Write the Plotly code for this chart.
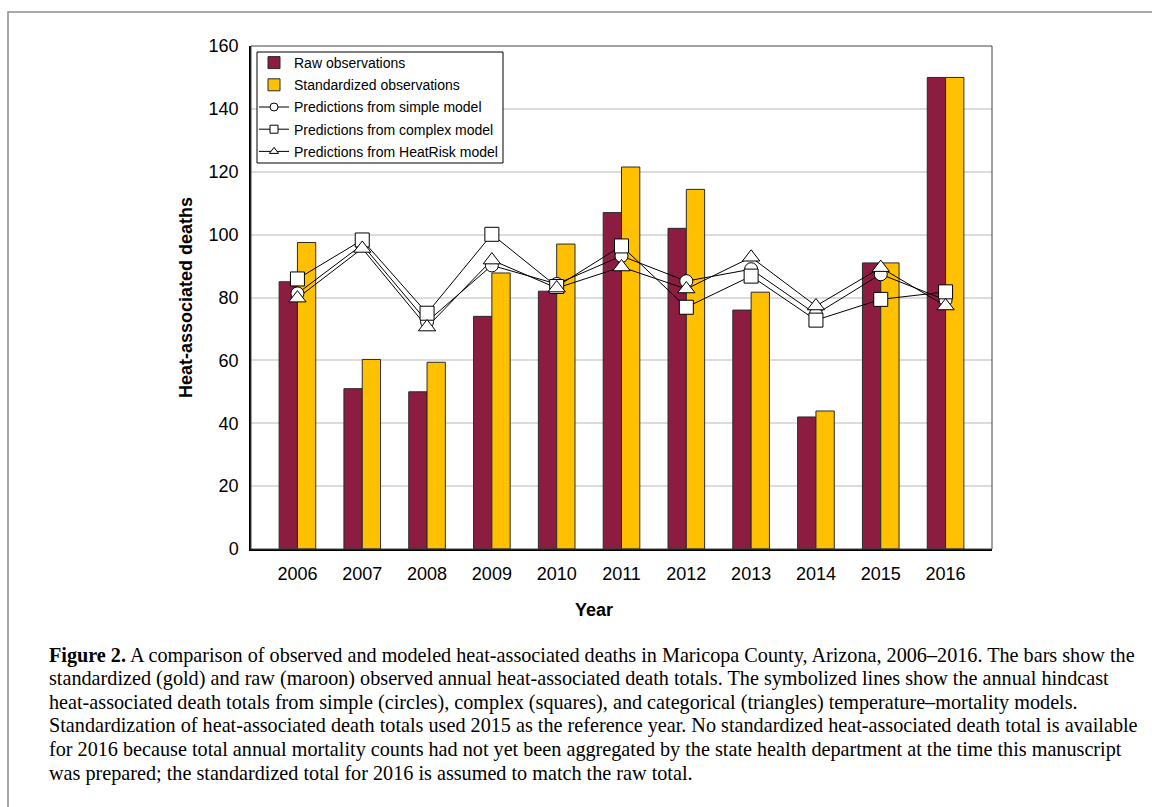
import plotly.graph_objects as go

years = ["2006", "2007", "2008", "2009", "2010", "2011", "2012", "2013", "2014", "2015", "2016"]
raw_obs = [85, 51, 50, 74, 82, 107, 102, 76, 42, 91, 150]
std_obs = [97.5, 60.3, 59.4, 87.8, 97, 121.5, 114.4, 81.7, 43.9, 91, 150]
simple_pred = [81.3, 96.8, 72.3, 90.2, 84.3, 93.2, 85.2, 89.0, 74.7, 87.4, 79.2]
complex_pred = [85.9, 98.3, 75.0, 100.1, 83.5, 96.4, 76.9, 86.8, 72.8, 79.4, 81.8]
heatrisk_pred = [79.8, 95.6, 70.6, 91.9, 83.0, 89.7, 82.7, 92.8, 77.3, 89.5, 77.3]

caption_lines = [
    "<b>Figure 2.</b> A comparison of observed and modeled heat-associated deaths in Maricopa County, Arizona, 2006–2016. The bars show the",
    "standardized (gold) and raw (maroon) observed annual heat-associated death totals. The symbolized lines show the annual hindcast",
    "heat-associated death totals from simple (circles), complex (squares), and categorical (triangles) temperature–mortality models.",
    "Standardization of heat-associated death totals used 2015 as the reference year. No standardized heat-associated death total is available",
    "for 2016 because total annual mortality counts had not yet been aggregated by the state health department at the time this manuscript",
    "was prepared; the standardized total for 2016 is assumed to match the raw total.",
]

W, H = 1152, 807
L, R, T, B = 251, 992, 46, 549  # plot area in pixels


def px(x):
    return (x - L) / (R - L)


def py(y):
    return (B - y) / (B - T)


fig = go.Figure()
bar_line = dict(color="#2a2a2a", width=1)
fig.add_trace(go.Bar(x=years, y=raw_obs, name="Raw observations", legendgroup="g1",
                     marker=dict(color="#8C1D40", line=bar_line)))
fig.add_trace(go.Bar(x=years, y=std_obs, name="Standardized observations", legendgroup="g2",
                     marker=dict(color="#FFC000", line=bar_line)))

series = [
    ("Predictions from simple model", simple_pred, "circle", 13),
    ("Predictions from complex model", complex_pred, "square", 14),
    ("Predictions from HeatRisk model", heatrisk_pred, "triangle-up", 15),
]
# lines first (behind all markers)
for name, vals, sym, sz in series:
    fig.add_trace(go.Scatter(x=years, y=vals, mode="lines", showlegend=False,
                             line=dict(color="black", width=1), hoverinfo="skip"))
# markers
for name, vals, sym, sz in series:
    fig.add_trace(go.Scatter(x=years, y=vals, mode="markers", showlegend=False, name=name,
                             marker=dict(symbol=sym, size=sz, color="white",
                                         line=dict(color="black", width=1))))
# legend entries
for k, (name, vals, sym, sz) in enumerate(series):
    fig.add_trace(go.Scatter(x=[None], y=[None], mode="lines+markers", name=name,
                             legendgroup=f"g{k + 3}",
                             line=dict(color="black", width=1),
                             marker=dict(symbol=sym, size=8, color="white",
                                         line=dict(color="black", width=1))))

annotations = [
    dict(text="<b>Heat-associated deaths</b>", x=px(186), y=py(298), xref="paper", yref="paper",
         xanchor="center", yanchor="middle",
         textangle=-90, showarrow=False, font=dict(family="Liberation Sans, Arial", size=18, color="black")),
    dict(text="<b>Year</b>", x=px(594), y=py(610), xref="paper", yref="paper",
         xanchor="center", yanchor="middle",
         showarrow=False, font=dict(family="Liberation Sans, Arial", size=18, color="black")),
]
for i, line in enumerate(caption_lines):
    annotations.append(dict(text=line, x=px(47), y=py(655 + 23.6 * i), xref="paper", yref="paper",
                            xanchor="left", yanchor="middle", showarrow=False,
                            font=dict(family="Liberation Serif, Times New Roman", size=20.2, color="black")))

shapes = [
    # outer figure frame (extends beyond the visible page on right and bottom)
    dict(type="rect", xref="paper", yref="paper", x0=px(8), x1=px(1170), y0=py(830), y1=py(12),
         line=dict(color="#8c8c8c", width=1.5), layer="below"),
    # plot-area box
    dict(type="rect", xref="paper", yref="paper", x0=0, x1=1, y0=0, y1=1,
         line=dict(color="#444444", width=1), layer="above"),
    # legend box
    dict(type="rect", xref="paper", yref="paper", x0=px(257), x1=px(503), y0=py(163), y1=py(52),
         line=dict(color="black", width=1), fillcolor="white", layer="above"),
]

fig.update_layout(
    width=W, height=H,
    margin=dict(l=L, r=W - R, t=T, b=H - B, autoexpand=False),
    paper_bgcolor="white", plot_bgcolor="white",
    barmode="group", bargap=0.435, bargroupgap=0,
    font=dict(family="Liberation Sans, Arial", size=18, color="black"),
    legend=dict(x=px(254), y=py(47), xanchor="left", yanchor="top",
                borderwidth=0, bgcolor="rgba(0,0,0,0)",
                font=dict(family="Liberation Sans, Arial", size=14, color="black"),
                tracegroupgap=1, itemwidth=30, traceorder="grouped"),
    annotations=annotations,
    shapes=shapes,
    showlegend=True,
)
fig.update_xaxes(type="category", showline=True, linecolor="black", linewidth=1.5,
                 ticks="", showgrid=False, tickfont=dict(size=18), ticklabelstandoff=8)
fig.update_yaxes(range=[0, 160], dtick=20, showline=True, linecolor="black", linewidth=1.5,
                 ticks="", showgrid=True, gridcolor="#dcdcdc", gridwidth=1.5,
                 zeroline=False, tickfont=dict(size=18), ticklabelstandoff=7)

fig.write_html("out.html", config={"displayModeBar": False},
               post_script="document.body.style.margin='0';")
